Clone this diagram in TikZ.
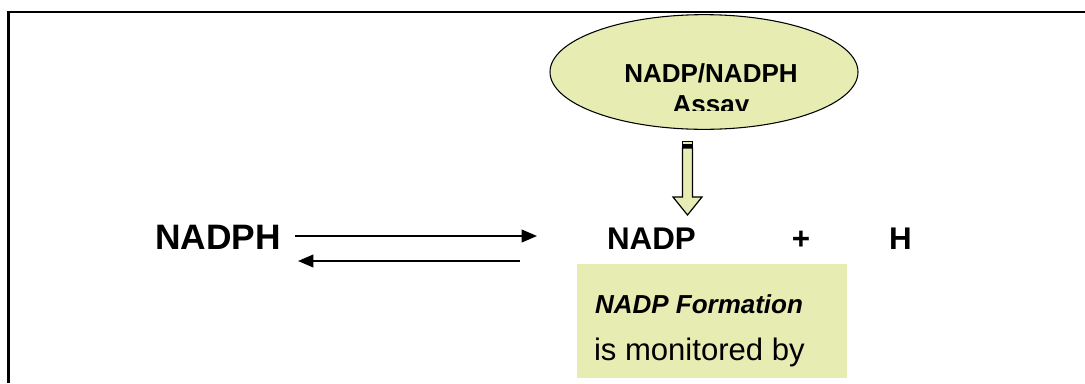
\documentclass[tikz,border=0pt]{standalone}
\usepackage{fontspec}
\setmainfont{Liberation Sans}
\usetikzlibrary{shapes.geometric,arrows.meta}
\definecolor{pale}{RGB}{230,236,178}
\begin{document}
\begin{tikzpicture}[x=0.75pt,y=-0.75pt,
  lbl/.style={inner sep=0pt, outer sep=0pt},
  big/.style={lbl, font=\bfseries\fontsize{23.5}{28}\selectfont},
  ell/.style={lbl, font=\bfseries\fontsize{19.5}{23}\selectfont},
  rxn/.style={line width=1.35pt, -{Triangle[length=11.5pt,width=9.5pt]}},
  blk/.style={draw=black, line width=0.9pt, fill=pale, line join=miter}]
\useasboundingbox (0,0) rectangle (1085,383);
% frame (top and left edges)
\draw[line width=1.9pt] (8.5,383) -- (8.5,12) -- (1085,12);
% assay ellipse
\node[ellipse, draw, line width=0.8pt, fill=pale, minimum width=231pt, minimum height=86pt, inner sep=0pt] (assay) at (704,72) {};
\begin{scope}
  \clip (560,30) rectangle (850,110);
  \node[ell, anchor=base] (assay1) at (711,82) {NADP/NADPH};
  \node[ell, anchor=base] (assay2) at (711,113) {Assay};
\end{scope}
% striped block arrow
\fill[blk] (682.5,141.5) rectangle (692.5,144.3);
\fill[blk] (682.5,145.3) rectangle (692.5,147);
\draw[blk] (682.5,148) -- (692.5,148) -- (692.5,197) -- (702,197) -- (687.5,215) -- (673,197) -- (682.5,197) -- cycle;
% reaction
\node[lbl, font=\bfseries\fontsize{26.5}{30}\selectfont, anchor=base west] (nadph) at (155,249) {NADPH};
\node[big, anchor=base west] (nadp) at (607,249) {NADP};
\node[big, anchor=base] (plus) at (801,249) {+};
\node[big, anchor=base west] (h) at (889,249) {H};
\coordinate (f1) at (295,236);
\coordinate (f2) at (537,236);
\coordinate (b1) at (520,261);
\coordinate (b2) at (298,261);
\draw[rxn] (f1) -- (f2);
\draw[rxn] (b1) -- (b2);
% note box
\node[fill=pale, lbl, anchor=north west, minimum width=202.5pt, minimum height=85.5pt] (note) at (577,264) {};
\node[lbl, anchor=base west, font=\bfseries\itshape\fontsize{19.5}{23}\selectfont] (note1) at (595,313) {NADP Formation};
\node[lbl, anchor=base west, font=\fontsize{23.3}{27}\selectfont] (note2) at (594,360) {is monitored by};
\end{tikzpicture}
\end{document}
